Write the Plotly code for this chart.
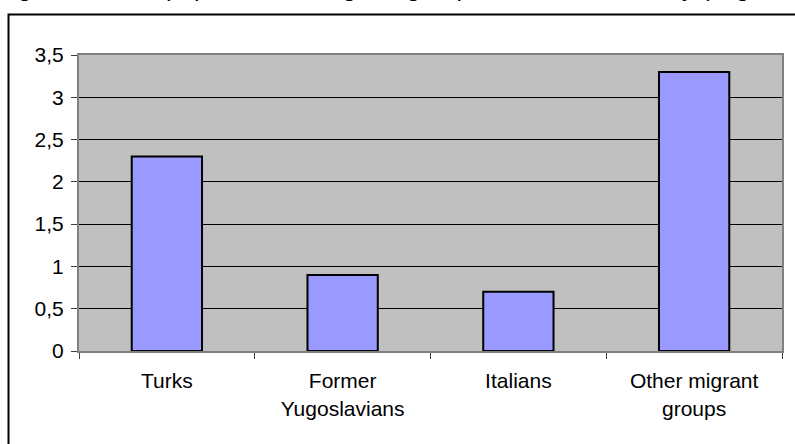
import plotly.graph_objects as go

categories = ["Turks", "Former<br>Yugoslavians", "Italians", "Other migrant<br>groups"]
values = [2.3, 0.9, 0.7, 3.3]
y_ticks = [0, 0.5, 1, 1.5, 2, 2.5, 3, 3.5]
y_tick_labels = ["0", "0,5", "1", "1,5", "2", "2,5", "3", "3,5"]
title_text = "Figure 10: The population of migrant groups in the host country (migrants in %)"

W, H = 795, 444
ML, MR, MT, MB = 79, 13, 55, 93
PW, PH = W - ML - MR, H - MT - MB

def px_x(x):
    return (x - ML) / PW

def px_y(y):
    return (H - MB - y) / PH

fig = go.Figure()
fig.add_trace(go.Bar(
    x=categories, y=values, width=0.4,
    marker=dict(color="#9999FF", line=dict(color="black", width=2)),
    hoverinfo="skip",
))

fig.update_layout(
    width=W, height=H,
    margin=dict(l=ML, r=MR, t=MT, b=MB),
    paper_bgcolor="white", plot_bgcolor="#C0C0C0",
    font=dict(family="Liberation Sans, Arial, sans-serif", size=21, color="black"),
    showlegend=False,
    separators=", ",
)
fig.update_xaxes(
    showline=True, linecolor="#808080", linewidth=2, mirror=True,
    ticks="outside", tickson="boundaries", ticklen=6, tickcolor="#404040", tickwidth=1,
    showgrid=False, tickfont=dict(size=21), ticklabelstandoff=10,
)
fig.update_yaxes(
    range=[0, 3.5], tickvals=y_ticks, ticktext=y_tick_labels,
    showline=True, linecolor="#808080", linewidth=2, mirror=True,
    ticks="outside", ticklen=6, tickcolor="#404040", tickwidth=1,
    showgrid=True, gridcolor="black", gridwidth=1, zeroline=False,
    tickfont=dict(size=21), ticklabelstandoff=3,
)

# outer chart border (extends past right and bottom edges of the crop)
fig.add_shape(type="rect", xref="paper", yref="paper",
              x0=px_x(8.5), x1=px_x(805), y0=px_y(455), y1=px_y(14.5),
              line=dict(color="black", width=2), fillcolor="rgba(0,0,0,0)", layer="above")

# title, mostly cut off at top (only its lower part visible)
fig.add_annotation(text=title_text, xref="paper", yref="paper",
                   x=px_x(-5), y=px_y(3), xanchor="left", yanchor="bottom",
                   showarrow=False, font=dict(size=25, color="black"))

fig.write_html("out.html", config={"displayModeBar": False},
               post_script="document.body.style.margin='0';document.body.style.overflow='hidden';")
